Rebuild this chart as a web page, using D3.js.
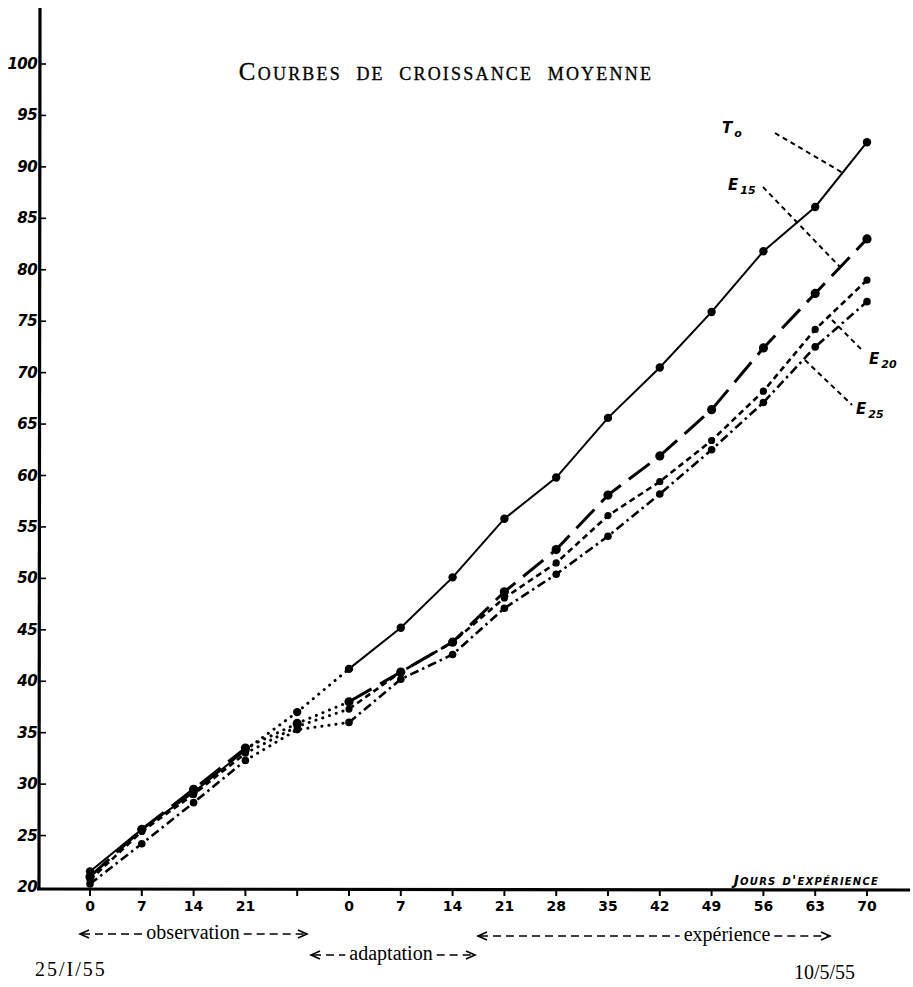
<!DOCTYPE html>
<html>
<head>
<meta charset="utf-8">
<script src="https://cdn.jsdelivr.net/npm/d3@7"></script>
<style>
  body { margin: 0; background: #fff; }
  svg { display: block; }
</style>
</head>
<body>
<svg id="chart" width="913" height="987"></svg>
<script>
// x positions are week slots along the axis, labels as printed
const tickLabels = ["0", "7", "14", "21", "", "0", "7", "14", "21", "28", "35", "42", "49", "56", "63", "70"];
const yTicks = [20, 25, 30, 35, 40, 45, 50, 55, 60, 65, 70, 75, 80, 85, 90, 95, 100];

// mean weight per group
const T0  = [21.5, 25.6, 29.2, 33.3, 37.0, 41.2, 45.2, 50.1, 55.8, 59.8, 65.6, 70.5, 75.9, 81.8, 86.1, 92.4];
const E15 = [21.0, 25.6, 29.5, 33.5, 35.9, 38.0, 40.9, 43.8, 48.7, 52.8, 58.1, 61.9, 66.4, 72.4, 77.7, 83.0];
const E20 = [20.7, 25.4, 29.0, 33.0, 35.6, 37.3, 40.9, 43.8, 48.1, 51.5, 56.1, 59.4, 63.4, 68.2, 74.2, 79.0];
const E25 = [20.3, 24.2, 28.2, 32.3, 35.3, 36.0, 40.2, 42.6, 47.1, 50.4, 54.1, 58.2, 62.5, 67.1, 72.5, 76.9];

// the transfer between observation and adaptation is drawn dotted
const DOT_FROM = 3, DOT_TO = 5;

const series = [
  {name: "T0",  values: T0,  width: 2,   dash: null,       r: 4.2},
  {name: "E15", values: E15, width: 3,   dash: "26 10",    r: 4.6},
  {name: "E20", values: E20, width: 2.6, dash: "6 4",      r: 3.6},
  {name: "E25", values: E25, width: 2.6, dash: "9 4 2.5 4", r: 3.8}
];

const svg = d3.select("#chart");

const x = d3.scaleLinear().domain([0, 15]).range([90, 867]);
const y = d3.scaleLinear().domain([20, 100]).range([887, 64]);

// axes
svg.append("line")
  .attr("x1", 40).attr("y1", 8).attr("x2", 39).attr("y2", 890)
  .attr("stroke", "#000").attr("stroke-width", 3.2);
svg.append("line")
  .attr("x1", 37).attr("y1", 889).attr("x2", 910).attr("y2", 890)
  .attr("stroke", "#000").attr("stroke-width", 3.2);

const yAxis = svg.append("g");
yAxis.selectAll("line")
  .data(yTicks.slice(1))
  .join("line")
  .attr("x1", 40).attr("x2", 46)
  .attr("y1", d => y(d)).attr("y2", d => y(d))
  .attr("stroke", "#000").attr("stroke-width", 1.6);
yAxis.selectAll("text")
  .data(yTicks)
  .join("text")
  .attr("x", 37)
  .attr("y", d => y(d) + 5)
  .attr("text-anchor", "end")
  .attr("font-family", "DejaVu Sans")
  .attr("font-style", "italic")
  .attr("font-weight", "bold")
  .attr("font-size", 15)
  .attr("letter-spacing", -0.6)
  .text(d => d);

const xAxis = svg.append("g");
xAxis.selectAll("line")
  .data(d3.range(16))
  .join("line")
  .attr("x1", d => x(d)).attr("x2", d => x(d))
  .attr("y1", 889).attr("y2", 896)
  .attr("stroke", "#000").attr("stroke-width", 2);
xAxis.selectAll("text")
  .data(tickLabels)
  .join("text")
  .attr("x", (d, i) => x(i))
  .attr("y", 911)
  .attr("text-anchor", "middle")
  .attr("font-family", "DejaVu Sans")
  .attr("font-weight", "bold")
  .attr("font-size", 14)
  .text(d => d);

// curves
const line = d3.line()
  .x(d => x(d.i))
  .y(d => y(d.v));

series.forEach(s => {
  const pts = s.values.map((v, i) => ({i, v}));
  const g = svg.append("g");
  [pts.filter(p => p.i <= DOT_FROM), pts.filter(p => p.i >= DOT_TO)].forEach(part => {
    g.append("path")
      .attr("d", line(part))
      .attr("fill", "none")
      .attr("stroke", "#000")
      .attr("stroke-width", s.width)
      .attr("stroke-dasharray", s.dash);
  });
  g.append("path")
    .attr("d", line(pts.filter(p => p.i >= DOT_FROM && p.i <= DOT_TO)))
    .attr("fill", "none")
    .attr("stroke", "#000")
    .attr("stroke-width", 3)
    .attr("stroke-linecap", "round")
    .attr("stroke-dasharray", "0.1 7");
  g.selectAll("circle")
    .data(pts)
    .join("circle")
    .attr("cx", d => x(d.i))
    .attr("cy", d => y(d.v))
    .attr("r", s.r)
    .attr("fill", "#000");
});

// curve labels with dashed leaders
const leaders = [
  {x1: 775, y1: 133, x2: 843, y2: 173},
  {x1: 763, y1: 187, x2: 840, y2: 267},
  {x1: 832, y1: 320, x2: 862, y2: 350},
  {x1: 805, y1: 360, x2: 852, y2: 405}
];
svg.selectAll("line.leader")
  .data(leaders)
  .join("line")
  .attr("class", "leader")
  .attr("x1", d => d.x1).attr("y1", d => d.y1)
  .attr("x2", d => d.x2).attr("y2", d => d.y2)
  .attr("stroke", "#000").attr("stroke-width", 2)
  .attr("stroke-dasharray", "5 4");

const labels = [
  {main: "T", sub: "o",  x: 722, y: 133},
  {main: "E", sub: "15", x: 728, y: 190},
  {main: "E", sub: "20", x: 869, y: 364},
  {main: "E", sub: "25", x: 856, y: 414}
];
labels.forEach(l => {
  const t = svg.append("text")
    .attr("x", l.x).attr("y", l.y)
    .attr("font-family", "DejaVu Sans")
    .attr("font-style", "italic")
    .attr("font-weight", "bold")
    .attr("font-size", 15);
  t.append("tspan").text(l.main);
  t.append("tspan").attr("dx", 2).attr("dy", 4).attr("font-size", 11).text(l.sub);
});

// title
svg.append("text")
  .attr("x", 446).attr("y", 80)
  .attr("text-anchor", "middle")
  .attr("font-family", "Liberation Serif")
  .attr("font-size", 25)
  .attr("font-variant", "small-caps")
  .attr("letter-spacing", 2.2)
  .attr("word-spacing", 6)
  .attr("stroke", "#000")
  .attr("stroke-width", 0.3)
  .text("Courbes de croissance moyenne");

svg.append("text")
  .attr("x", 879).attr("y", 885)
  .attr("text-anchor", "end")
  .attr("font-family", "DejaVu Sans")
  .attr("font-style", "italic")
  .attr("font-weight", "bold")
  .attr("font-size", 14)
  .attr("font-variant", "small-caps")
  .attr("letter-spacing", 1.2)
  .text("Jours d'expérience");

// period spans under the axis
const spans = [
  {label: "observation", x1: 80,  x2: 307, cx: 193, y: 934},
  {label: "adaptation",  x1: 311, x2: 475, cx: 391, y: 955},
  {label: "expérience",  x1: 478, x2: 830, cx: 727, y: 936}
];
spans.forEach(s => {
  const t = svg.append("text")
    .attr("x", s.cx).attr("y", s.y + 5)
    .attr("text-anchor", "middle")
    .attr("font-family", "Liberation Serif")
    .attr("font-size", 20)
    .text(s.label);
  const w = t.node().getComputedTextLength();
  const dashed = [[s.x1 + 2, s.cx - w / 2 - 4], [s.cx + w / 2 + 4, s.x2 - 2]];
  dashed.forEach(([a, b]) => {
    svg.append("line")
      .attr("x1", a).attr("y1", s.y).attr("x2", b).attr("y2", s.y)
      .attr("stroke", "#000").attr("stroke-width", 1.4)
      .attr("stroke-dasharray", "8 5");
  });
  svg.append("path")
    .attr("d", `M${s.x1 + 9},${s.y - 4} L${s.x1},${s.y} L${s.x1 + 9},${s.y + 4}`)
    .attr("fill", "none").attr("stroke", "#000").attr("stroke-width", 1.6);
  svg.append("path")
    .attr("d", `M${s.x2 - 9},${s.y - 4} L${s.x2},${s.y} L${s.x2 - 9},${s.y + 4}`)
    .attr("fill", "none").attr("stroke", "#000").attr("stroke-width", 1.6);
});

svg.append("text")
  .attr("x", 35).attr("y", 976)
  .attr("font-family", "Liberation Serif")
  .attr("font-size", 20)
  .attr("letter-spacing", 2)
  .text("25/I/55");
svg.append("text")
  .attr("x", 794).attr("y", 979)
  .attr("font-family", "Liberation Serif")
  .attr("font-size", 20)
  .text("10/5/55");
</script>
</body>
</html>
